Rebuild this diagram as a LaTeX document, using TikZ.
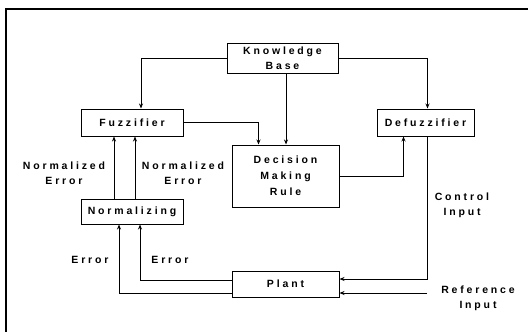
\documentclass[tikz,border=0pt]{standalone}
\usepackage{fontspec}
\newfontfamily\diagfont{Liberation Sans}[LetterSpace=27]
\usetikzlibrary{arrows.meta}
\tikzset{
    block/.style={draw, line width=1pt, align=center, inner sep=0pt},
    link/.style={-{Stealth[length=5pt,width=4pt]}, line width=1pt},
    tag/.style={align=center, inner sep=0pt},
    frame/.style={line width=1.2pt}
}

\begin{document}
\begin{tikzpicture}[x=1pt, y=-1pt, font=\diagfont\bfseries\fontsize{10.5}{15}\selectfont]
    \useasboundingbox (0,0) rectangle (528,332);
    \draw[frame] (6,332) -- (6,9) -- (528,9);

    % Blocks
    \node[block, minimum width=111pt, minimum height=30pt] (kb) at (282.5,58) {Knowledge\\Base};
    \node[block, minimum width=102pt, minimum height=27pt] (fuzz) at (132,122.5) {Fuzzifier};
    \node[block, minimum width=97pt, minimum height=27pt] (defuzz) at (425.5,122.5) {Defuzzifier};
    \node[block, minimum width=107pt, minimum height=62pt, font=\diagfont\bfseries\fontsize{10.5}{16}\selectfont] (dmr) at (285.5,176) {Decision\\Making\\Rule};
    \node[block, minimum width=102pt, minimum height=25pt] (norm) at (132,211.5) {Normalizing};
    \node[block, minimum width=107pt, minimum height=26pt] (plant) at (285.5,284) {Plant};

    % Knowledge base outputs
    \draw[link] (kb.west) -| ([xshift=9pt]fuzz.north);
    \draw[link] (kb.east) -| ([xshift=2pt]defuzz.north);
    \draw[link] ([xshift=3.5pt]kb.south) -- ([xshift=3.5pt]kb.south |- dmr.north);
    \draw[link] (fuzz.east) -| ([xshift=-27pt]dmr.north);
    \draw[link] (dmr.east) -| ([xshift=-22pt]defuzz.south);

    % Plant inputs
    \coordinate (ref) at (427,293);
    \draw[link] ([xshift=2pt]defuzz.south) |- ([yshift=5pt]plant.east);
    \draw[link] (ref) -- ([yshift=-9pt]plant.east);

    % Error feedback
    \draw[link] ([yshift=4pt]plant.west) -| ([xshift=8pt]norm.south);
    \draw[link] ([yshift=-9pt]plant.west) -| ([xshift=-13pt]norm.south);
    \draw[link] ([xshift=-18pt]norm.north) -- ([xshift=-18pt]fuzz.south);
    \draw[link] ([xshift=3pt]norm.north) -- ([xshift=3pt]fuzz.south);

    % Labels
    \node[tag] (nel) at (64,173) {Normalized\\Error};
    \node[tag] (ner) at (183,173) {Normalized\\Error};
    \node[tag] (el) at (90,260) {Error};
    \node[tag] (er) at (170,260) {Error};
    \node[tag] (ci) at (462,205) {Control\\Input};
    \node[tag] (ri) at (478,298) {Reference\\Input};
\end{tikzpicture}
\end{document}
